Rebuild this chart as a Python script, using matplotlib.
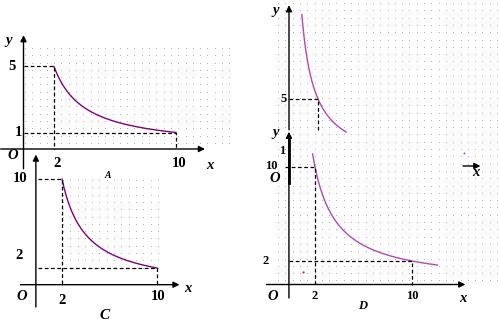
import numpy as np
import matplotlib
matplotlib.use('Agg')
import matplotlib.pyplot as plt

# =============================================================================
# Data (each panel: curve y = k / x, guide points, tick labels)
# =============================================================================

A_K, A_X0, A_X1 = 10, 2, 10          # y = 10/x, x in [2, 10]
A_XTICKS = [2, 10]
A_YTICKS = [5, 1]

C_K, C_X0, C_X1 = 20, 2, 10          # y = 20/x, x in [2, 10]
C_XTICKS = [2, 10]
C_YTICKS = [10, 2]

B_K, B_X0, B_X1 = 10, 0.885, 3.94    # y = 10/x, partly hidden
B_XTICK = 2
B_YTICK = 5

D_K, D_X0, D_X1 = 20, 1.8, 12.1      # y = 20/x
D_XTICKS = [2, 10]
D_YTICKS = [10, 2]

W, H = 499, 325
SERIF = 'Liberation Serif'
LEFT_COLOR = '#800080'
RIGHT_COLOR = '#b347b3'

fig = plt.figure(figsize=(W / 100, H / 100), dpi=100)
fig.patch.set_facecolor('white')

# background: dotted grid paper, in pixel coords
bg = fig.add_axes([0, 0, 1, 1])
bg.set_xlim(0, W)
bg.set_ylim(H, 0)
bg.axis('off')
for (x0, x1, y0, y1) in [(25, 232, 48, 146), (63, 158, 180, 268), (278, 499, 3, 284)]:
    gx, gy = np.meshgrid(np.arange(x0, x1, 7.3), np.arange(y0, y1, 7.3))
    bg.scatter(gx.ravel(), gy.ravel(), s=0.4, color='#a8a8a8', linewidths=0)


def panel(ox, oy, sx, sy):
    """full-figure axes whose data origin sits at pixel (ox, oy)"""
    ax = fig.add_axes([0, 0, 1, 1])
    ax.set_xlim(-ox / sx, (W - ox) / sx)
    ax.set_ylim(-(H - oy) / sy, oy / sy)
    ax.axis('off')
    ax.patch.set_alpha(0)
    return ax


def arrow(ax, start, end, lw=1.0):
    ax.annotate('', xy=end, xytext=start,
                arrowprops=dict(arrowstyle='-|>', color='black', lw=lw,
                                mutation_scale=9, shrinkA=0, shrinkB=0))


def dashed(ax, xs, ys):
    ax.plot(xs, ys, color='black', lw=0.9, dashes=(3, 2))


def label(ax, x, y, s, italic=False, size=10.5, ha='center', va='center'):
    ax.text(x, y, s, family=SERIF, fontweight='bold', fontsize=size,
            style='italic' if italic else 'normal', ha=ha, va=va)


def curve(ax, k, x0, x1, color):
    xs = np.linspace(x0, x1, 200)
    ax.plot(xs, k / xs, color=color, lw=1.0)


# ---------------- Panel A (top-left) ----------------
a = panel(23.5, 149, 15.25, 16.5)
arrow(a, (-1.5, 0), (11.9, 0))
arrow(a, (0, -1.2), (0, 6.9))
curve(a, A_K, A_X0, A_X1, LEFT_COLOR)
dashed(a, [0, A_X0, A_X0], [A_K / A_X0] * 2 + [0])
dashed(a, [0, A_X1, A_X1], [A_K / A_X1] * 2 + [0])
label(a, -1.0, 6.6, 'y', italic=True)
label(a, -0.75, A_YTICKS[0], str(A_YTICKS[0]))
label(a, -0.3, A_YTICKS[1], str(A_YTICKS[1]))
label(a, -0.7, -0.4, 'O', italic=True)
for t in A_XTICKS:
    label(a, t + 0.2, -0.85, str(t))
label(a, 12.2, -1.0, 'x', italic=True)
label(a, 5.5, -1.6, 'A', italic=True, size=7)

# ---------------- Panel C (bottom-left) ----------------
c = panel(38.25, 290.25, 11.875, 11.125)
arrow(c, (-1.5, 0.5), (11.9, 0.5))
arrow(c, (-0.2, -1.5), (-0.2, 12.2))
curve(c, C_K, C_X0, C_X1, LEFT_COLOR)
dashed(c, [0, C_X0, C_X0], [C_K / C_X0] * 2 + [0.5])
dashed(c, [0, C_X1, C_X1], [C_K / C_X1] * 2 + [0.5])
label(c, -1.55, C_YTICKS[0], str(C_YTICKS[0]))
label(c, -1.6, C_YTICKS[1] + 1.1, str(C_YTICKS[1]))
label(c, -1.4, -0.6, 'O', italic=True)
label(c, C_XTICKS[0], -0.9, str(C_XTICKS[0]))
label(c, C_XTICKS[1] + 0.1, -0.6, str(C_XTICKS[1]))
label(c, 12.6, 0.2, 'x', italic=True)
label(c, 5.6, -2.3, 'C', italic=True, size=11)

# ---------------- Panel B (top-right, partly covered) ----------------
b = panel(289, 166, 14.5, 13.4)
arrow(b, (0, 2.7), (0, 12.0))
arrow(b, (12.0, 0), (13.2, 0))
curve(b, B_K, B_X0, B_X1, RIGHT_COLOR)
dashed(b, [0, B_XTICK, B_XTICK], [B_YTICK, B_YTICK, 2.7])
label(b, -0.9, 11.6, 'y', italic=True)
label(b, -0.4, B_YTICK, str(B_YTICK), size=9)
label(b, 12.9, -0.5, 'x', italic=True)
label(b, -1.0, -0.95, 'O', italic=True)

# ---------------- Panel D (bottom-right) ----------------
d = panel(290.75, 284.5, 12.125, 11.75)
arrow(d, (-0.15, -1.15), (-0.15, 13.0))
d.plot([-0.15, -0.15], [8.6, 12.3], color='black', lw=2.0)
arrow(d, (-2.0, 0), (14.4, 0))
curve(d, D_K, D_X0, D_X1, RIGHT_COLOR)
dashed(d, [-0.5, D_XTICKS[0], D_XTICKS[0]], [D_K / D_XTICKS[0]] * 2 + [0])
dashed(d, [-0.15, D_XTICKS[1], D_XTICKS[1]], [D_K / D_XTICKS[1]] * 2 + [0])
d.scatter([14.3], [11.2], s=2, color='#c040c0', linewidths=0)
d.scatter([1.0], [1.06], s=3, color='#e04040', linewidths=0)
label(d, -1.2, 12.9, 'y', italic=True)
label(d, -0.7, 11.4, '1', size=9)
label(d, -1.6, D_YTICKS[0] + 0.1, str(D_YTICKS[0]), size=9)
label(d, -2.1, D_YTICKS[1], str(D_YTICKS[1]), size=9)
label(d, -1.5, -1.0, 'O', italic=True)
for t in D_XTICKS:
    label(d, t, -1.0, str(t), size=9)
label(d, 14.2, -1.2, 'x', italic=True)
label(d, 5.9, -1.8, 'D', italic=True, size=9)

fig.savefig('out.png', dpi=100, facecolor='white')
